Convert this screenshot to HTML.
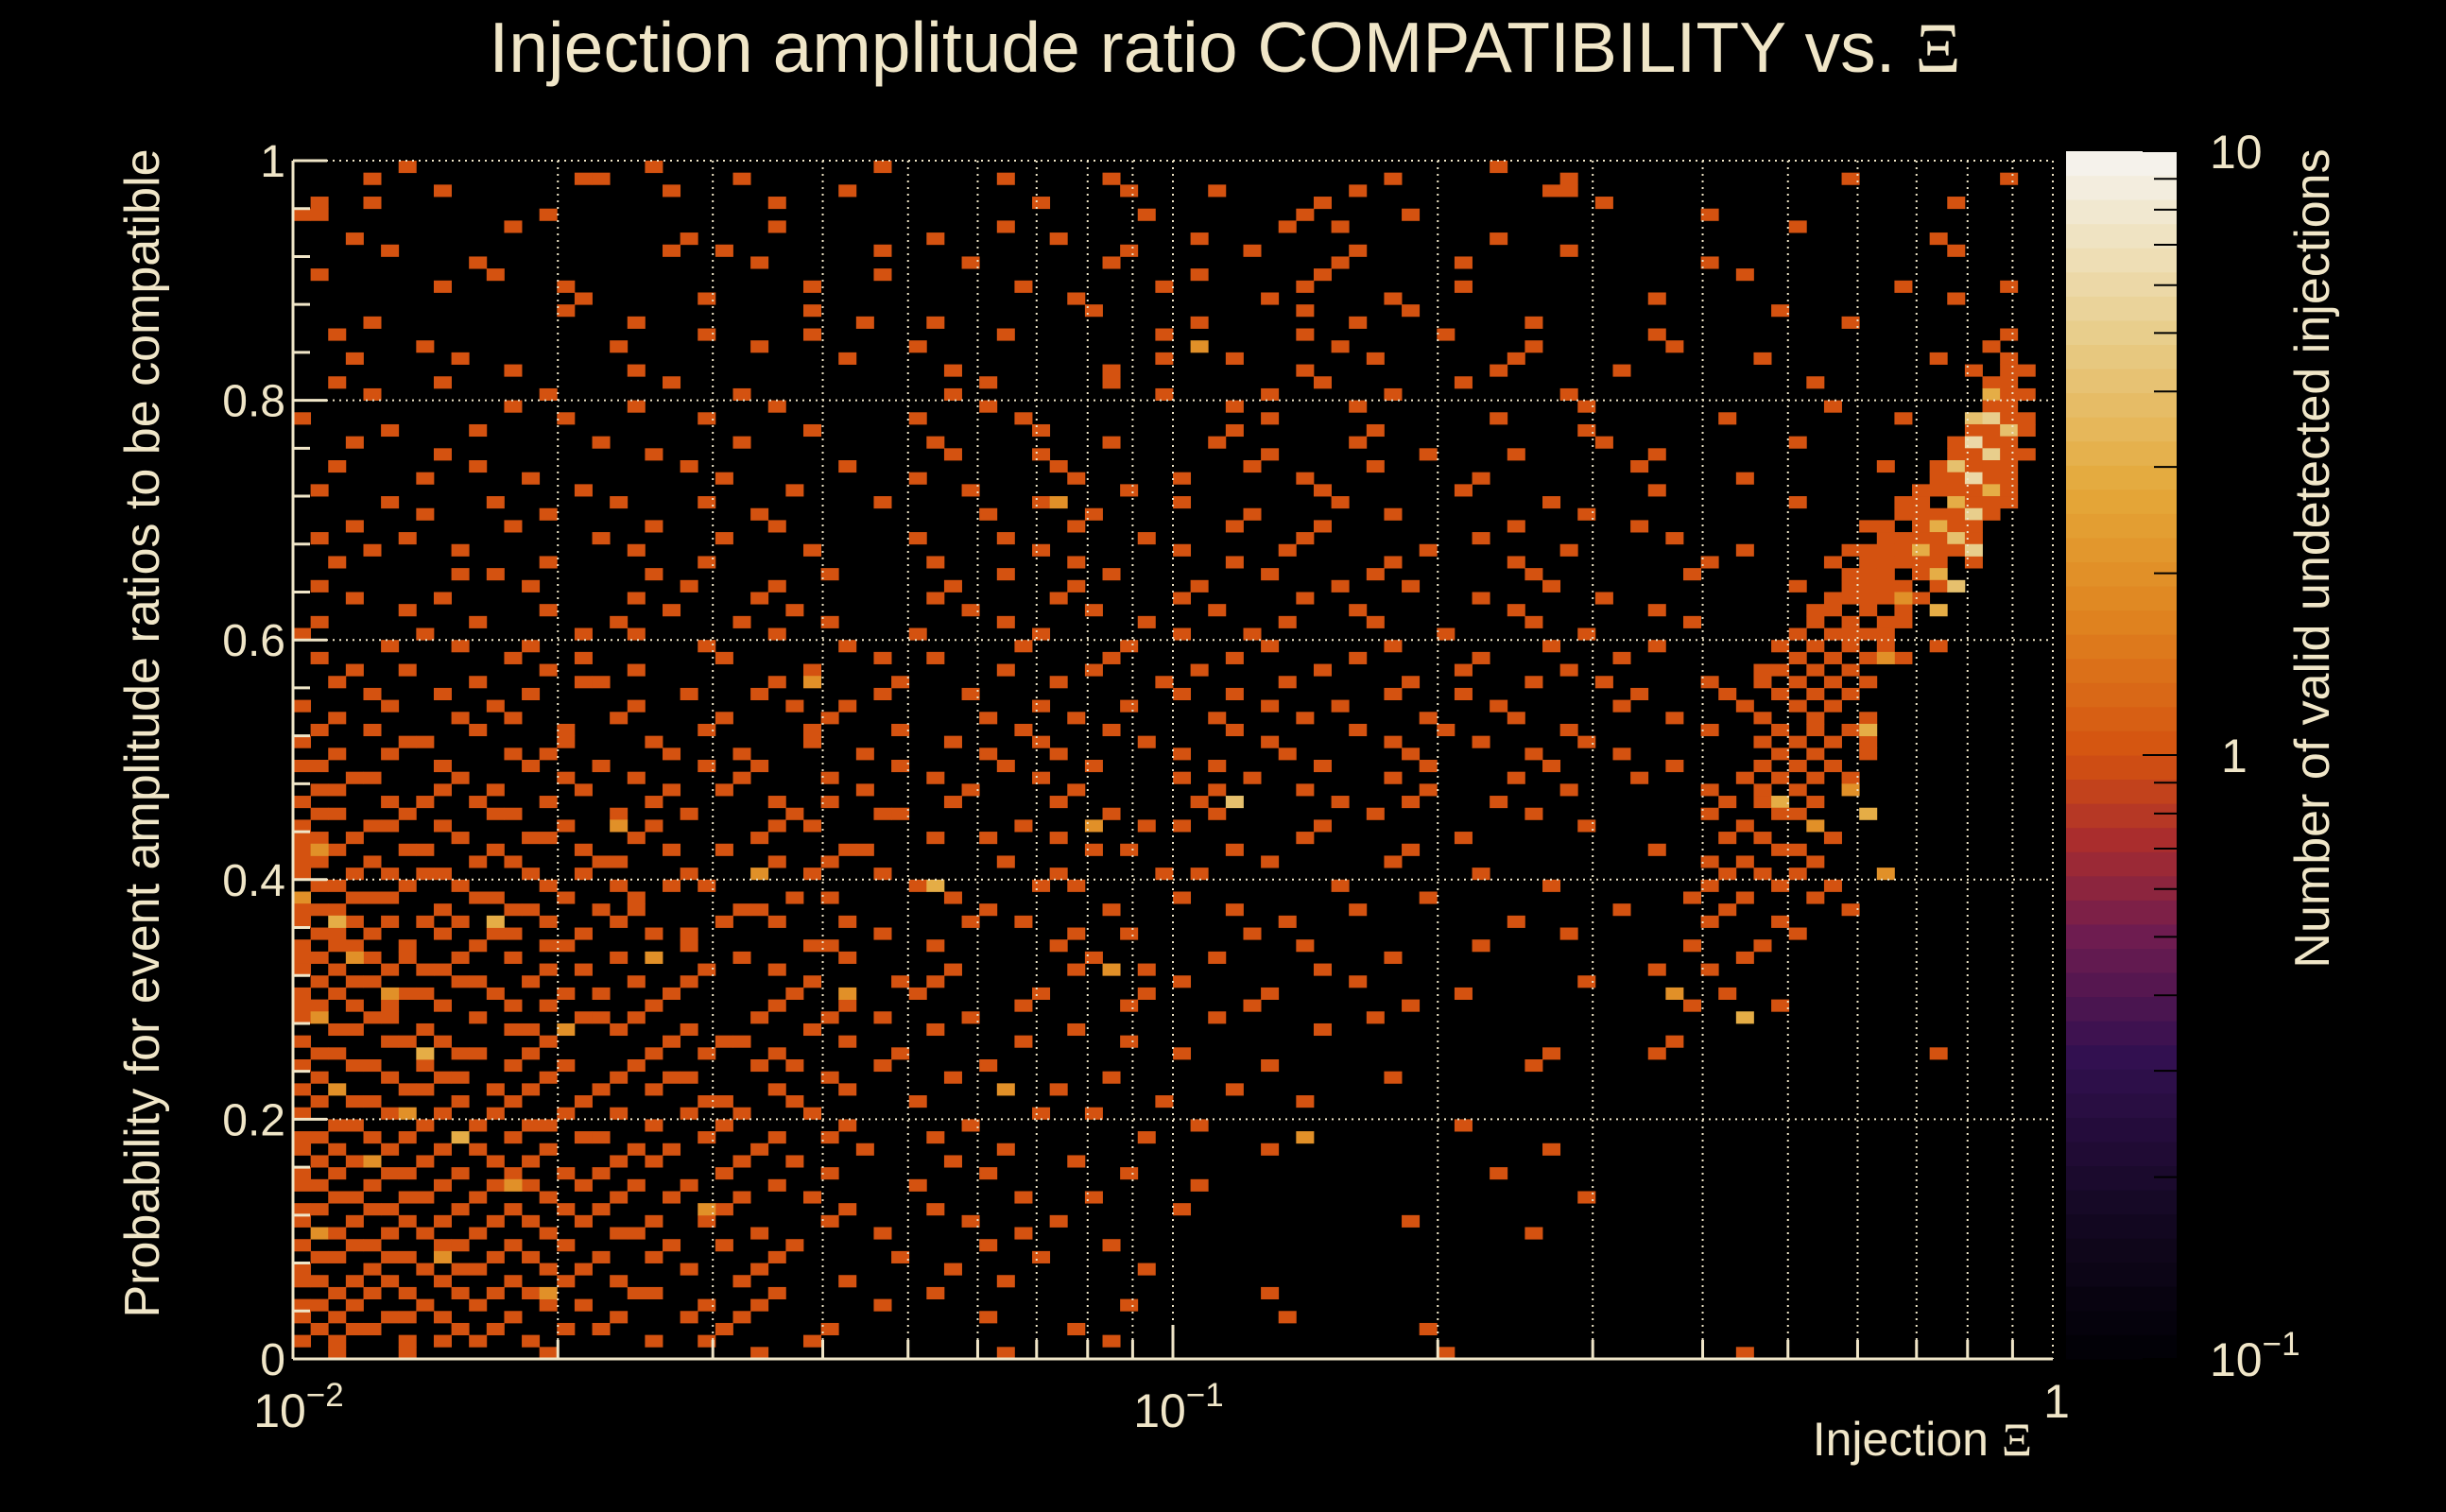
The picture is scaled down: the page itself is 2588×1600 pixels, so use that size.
<!DOCTYPE html>
<html><head><meta charset="utf-8"><style>
html,body{margin:0;padding:0;background:#000;}
svg{display:block;}
text{font-family:"Liberation Sans",sans-serif;fill:#f0e6c8;}
</style></head><body>
<svg id="chart" width="2588" height="1600" viewBox="0 0 2588 1600" xmlns="http://www.w3.org/2000/svg">
<rect x="0" y="0" width="2588" height="1600" fill="#000"/>
<g id="cells"></g>
<g id="grid"></g>
<g id="axes"></g>
<g id="cbar"></g>
<text x="1296" y="76" font-size="75" text-anchor="middle">Injection amplitude ratio COMPATIBILITY vs.  <tspan font-family="Liberation Serif, serif">Ξ</tspan></text>
<text x="2150" y="1540" font-size="50" text-anchor="end">Injection <tspan font-family="Liberation Serif, serif">Ξ</tspan></text>
<text transform="translate(168,776) rotate(-90)" font-size="52" text-anchor="middle">Probability for event amplitude ratios to be compatible</text>
<text transform="translate(2464,591) rotate(-90)" font-size="52" text-anchor="middle">Number of valid undetected injections</text>
</svg>
<script>
// ---- data: bins (x log 0.01..1, 100 bins; y 0..1, 100 bins) ----
const nXBins = 100;
const nYBins = 100;
const xRange = [0.01, 1];
const yRange = [0, 1];
const rowY = [99,98,97,96,95,94,93,92,91,90,89,88,87,86,85,84,83,82,81,80,79,78,77,76,75,74,73,72,71,70,69,68,67,66,65,64,63,62,61,60,59,58,57,56,55,54,53,52,51,50,49,48,47,46,45,44,43,42,41,40,39,38,37,36,35,34,33,32,31,30,29,28,27,26,25,24,23,22,21,20,19,18,17,16,15,14,13,12,11,10,9,8,7,6,5,4,3,2,1,0];
const rowXBins = [
[6,20,33,68],
[4,16,17,25,40,46,62,72,88,97],
[8,21,31,47,52,60,71,72],
[1,4,27,42,58,74,94],
[0,1,14,48,57,63,80],
[12,27,40,56,59,85],
[3,22,36,43,51,68,93],
[5,21,24,33,47,54,60,72,94],
[10,26,38,46,59,66,80],
[1,11,33,51,58,82],
[8,15,29,41,49,57,66,91,97],
[16,23,44,55,62,77,94],
[15,29,45,57,63,84],
[4,19,32,36,51,60,70,88],
[2,23,29,40,49,57,65,77,97],
[7,18,26,35,51,59,70,78,96],
[3,9,31,49,53,61,69,83,93,97],
[12,19,37,46,57,68,75,95,97,98],
[2,8,21,39,46,58,66,86,96,97],
[4,14,25,37,49,55,62,72,96,97,98],
[12,19,27,39,53,60,73,87,96,97],
[0,15,23,35,41,55,68,81,91,95,96,97,98],
[5,10,29,42,53,61,73,95,96,97,98],
[3,17,25,36,46,52,60,74,85,94,95,96,97],
[8,20,37,42,55,64,69,77,94,95,96,97,98],
[2,10,22,31,43,54,61,76,90,93,94,95,96,97],
[7,13,24,35,44,50,57,67,82,93,94,95,96,97],
[1,16,28,38,47,58,66,77,92,93,94,95,96,97],
[5,11,18,23,33,42,50,59,71,85,91,92,94,95,96,97],
[7,14,26,39,45,54,62,73,91,92,93,94,95,96],
[3,12,20,27,44,53,58,69,76,89,90,92,93,94,95],
[1,6,17,24,35,40,48,57,67,78,90,91,92,93,94,95],
[4,9,19,29,42,50,56,64,72,82,88,89,90,91,92,93,94],
[2,14,23,36,44,53,62,69,80,87,89,90,91,92,93,95],
[9,11,20,30,40,46,55,61,70,79,88,89,90,92,93],
[1,13,22,27,37,44,51,59,63,71,85,88,89,90,91,93],
[3,8,19,26,36,43,50,57,67,74,87,88,89,90,92],
[6,14,21,28,38,45,52,60,69,77,86,87,89,91],
[1,10,18,25,30,40,48,56,61,70,79,86,88,90,91],
[0,7,16,19,27,35,42,50,54,65,73,85,87,88,89,90],
[5,9,13,23,31,41,47,55,62,71,77,84,86,88,90,93],
[1,12,16,24,33,36,46,53,60,67,75,85,87,89,91],
[3,6,14,19,29,40,45,51,58,66,72,83,84,86,88],
[2,10,16,17,27,34,43,49,56,63,70,74,80,83,85,87,89],
[4,8,13,22,26,33,38,50,53,62,66,76,81,84,86,88],
[0,5,11,19,28,31,42,47,55,59,68,75,82,85,87],
[2,9,12,18,24,30,39,44,52,57,64,69,78,83,86,89],
[1,4,10,15,23,29,34,41,46,53,60,65,72,80,84,86,88],
[0,6,7,15,20,29,37,42,48,55,62,67,73,83,85,87,89],
[2,5,12,14,21,25,32,39,43,50,56,63,70,75,84,86,89],
[0,1,8,13,17,23,26,34,40,45,52,58,64,71,78,83,85,87],
[3,4,9,15,19,25,30,36,42,50,54,62,69,76,82,84,86,88],
[1,2,8,11,16,21,24,32,38,44,52,57,64,72,80,83,85],
[0,5,7,10,14,20,27,30,37,43,51,59,63,68,81,83,84,86],
[1,2,6,11,12,18,22,28,33,34,46,52,61,70,80,84,85],
[0,4,5,8,15,20,27,29,41,48,50,58,73,82,86],
[0,1,3,9,13,14,19,26,36,39,43,57,66,81,83,87],
[0,2,6,7,11,16,21,24,31,32,45,47,53,63,77,84,85],
[0,1,4,10,12,17,18,27,30,40,55,62,80,82,86],
[0,3,5,7,8,13,16,22,29,33,43,49,51,67,81,83,85],
[1,2,6,9,14,18,21,23,35,42,44,59,71,80,84,87],
[0,3,4,5,10,11,15,19,28,30,37,50,64,79,82,86],
[0,1,2,8,12,13,17,19,25,26,39,46,53,60,75,81,88],
[0,3,5,7,9,14,18,24,27,31,38,41,56,69,80,84],
[1,2,4,8,11,12,16,20,22,33,44,47,54,72,85],
[0,2,3,6,10,14,15,22,29,30,36,43,57,67,79,83],
[0,1,4,6,9,12,18,20,25,31,45,52,62,82],
[0,2,5,7,8,14,16,23,27,37,44,48,58,77,80],
[1,3,4,9,10,13,19,22,29,34,36,50,60,73],
[0,2,6,7,11,15,17,21,28,35,42,48,55,66,81],
[0,1,3,5,8,12,14,20,27,31,41,47,54,63,79,84],
[0,1,4,5,10,16,17,19,26,30,33,38,52,61],
[2,3,7,12,13,18,22,29,36,44,58],
[0,5,6,8,14,21,24,25,31,41,47,78],
[1,2,9,10,13,20,23,27,34,50,71,77,93],
[0,3,4,7,12,15,19,26,28,33,39,55,70],
[1,5,8,9,14,18,21,22,30,37,46,62],
[0,2,6,7,11,13,17,20,27,31,43,53],
[1,3,4,9,12,16,23,24,28,35,49,57],
[0,5,6,8,11,15,18,22,25,29,42,45],
[2,3,7,10,13,14,20,24,31,38,51,66],
[0,1,4,6,9,12,16,17,23,27,30,36,48],
[0,2,5,8,10,14,19,21,26,32,40,55,71],
[1,3,4,7,11,13,18,20,25,28,37,44],
[0,2,5,6,9,12,15,17,24,30,39,47,68],
[0,1,4,8,11,13,16,19,22,27,35,51],
[2,3,6,7,10,14,18,21,25,29,41,45,73],
[0,1,4,5,9,12,15,17,24,31,36,50],
[0,3,6,8,11,13,16,20,23,30,38,43,63],
[1,2,5,7,10,14,18,19,26,33,41,70],
[0,3,4,8,9,12,15,21,24,28,39,46],
[1,2,5,6,11,13,17,20,27,34,42],
[0,4,7,9,10,14,16,22,26,37,48],
[0,1,3,5,8,12,15,18,25,31,40],
[2,4,6,9,11,13,19,20,27,36,55],
[0,1,3,7,10,14,16,23,26,33,47],
[0,2,5,6,8,12,18,22,25,39,56],
[1,3,4,9,11,15,17,24,30,44,64],
[0,2,6,8,10,13,20,23,29,46],
[2,6,14,26,40,65,82]
];
// cells with count > 1
const hiX = [96,95,96,97,95,96,94,95,96,94,95,93,94,92,95,93,94,91,93,90,89,88,89,90,86,84,1,0,2,3,5,1,7,2,6,9,4,12,1,8,15,20,26,31,36,45,53,46,57,40,23,14,78,11,18,29,43,51,82];
const hiY = [80,78,78,77,76,75,74,73,72,71,70,69,68,67,67,65,64,63,62,58,52,47,45,40,44,46,42,38,36,33,30,28,25,22,20,18,16,14,10,8,27,33,40,30,39,44,46,32,18,22,12,5,30,36,44,56,71,84,28];
const hiCount = [3,4,5,4,6,5,4,6,3,3,5,3,4,3,5,3,4,2,3,2,3,2,3,2,2,3,2,2,3,2,2,2,3,2,2,3,2,2,2,2,2,2,2,2,3,2,4,2,2,2,2,2,2,3,2,2,2,2,3];
// axis tick values
const yTickValues = [0, 0.2, 0.4, 0.6, 0.8, 1];
const yTickLabels = ["0", "0.2", "0.4", "0.6", "0.8", "1"];
const xMajorTicks = [0.01, 0.1, 1];
const cbMajorTicks = [0.1, 1, 10];
const cbRange = [0.1, 10];

// ---- layout ----
const X0 = 310, X1 = 2172, YB = 1438, YT = 170;
const CBX0 = 2186, CBX1 = 2303, CBY0 = 1438, CBY1 = 160;
const NS = 'http://www.w3.org/2000/svg';
function xScale(v){ return X0 + (Math.log10(v) - Math.log10(xRange[0])) / (Math.log10(xRange[1]) - Math.log10(xRange[0])) * (X1 - X0); }
function yScale(v){ return YB - (v - yRange[0]) / (yRange[1] - yRange[0]) * (YB - YT); }
function cbScale(v){ return CBY0 - (Math.log10(v) - Math.log10(cbRange[0])) / (Math.log10(cbRange[1]) - Math.log10(cbRange[0])) * (CBY0 - CBY1); }
function xEdge(i){ return Math.pow(10, Math.log10(xRange[0]) + (Math.log10(xRange[1]) - Math.log10(xRange[0])) * i / nXBins); }
function yEdge(j){ return yRange[0] + (yRange[1] - yRange[0]) * j / nYBins; }
const stops = [[0,[0,0,4]],[0.12,[20,8,34]],[0.25,[50,16,80]],[0.35,[110,28,80]],[0.43,[170,45,45]],[0.5,[212,82,16]],[0.62,[224,134,32]],[0.72,[228,168,58]],[0.85,[232,206,140]],[1,[246,245,242]]];
function colorFor(c){
  let t = (Math.log10(c) - Math.log10(cbRange[0])) / (Math.log10(cbRange[1]) - Math.log10(cbRange[0]));
  t = Math.max(0, Math.min(1, t));
  for (let k = 1; k < stops.length; k++) {
    if (t <= stops[k][0]) {
      const a = stops[k-1], b = stops[k], f = (t - a[0]) / (b[0] - a[0]);
      const r = a[1].map((v, i) => Math.round(v + (b[1][i] - v) * f));
      return 'rgb(' + r.join(',') + ')';
    }
  }
  return 'rgb(246,245,242)';
}
function mk(tag, attrs, parent){ const e = document.createElementNS(NS, tag); for (const k in attrs) e.setAttribute(k, attrs[k]); parent.appendChild(e); return e; }

// ---- build counts ----
const counts = {};
rowY.forEach((iy, r) => rowXBins[r].forEach(ix => { counts[ix + ',' + iy] = 1; }));
hiX.forEach((ix, k) => { counts[ix + ',' + hiY[k]] = hiCount[k]; });

const cellsG = document.getElementById('cells');
Object.keys(counts).forEach(key => {
  const [ix, iy] = key.split(',').map(Number);
  const x0 = xScale(xEdge(ix)), x1 = xScale(xEdge(ix + 1));
  const y0 = yScale(yEdge(iy + 1)), y1 = yScale(yEdge(iy));
  const r = mk('rect', {x: x0.toFixed(2), y: y0.toFixed(2), width: (x1 - x0 + 0.4).toFixed(2), height: (y1 - y0 + 0.4).toFixed(2), fill: colorFor(counts[key])}, cellsG);
  
  
});

// ---- grid ----
const gridG = document.getElementById('grid');
const gridStyle = {stroke: '#f0e6c8', 'stroke-width': 2, 'stroke-dasharray': '2,5'};
for (let d = -2; d < 0; d++) {
  for (let m = 1; m <= 9; m++) {
    const v = m * Math.pow(10, d);
    if (v <= xRange[0]) continue;
    const x = xScale(v);
    const l = mk('line', Object.assign({x1: x, x2: x, y1: YT, y2: YB}, gridStyle), gridG);
    
    
  }
}
{
  const x = xScale(xRange[1]);
  const l = mk('line', Object.assign({x1: x, x2: x, y1: YT, y2: YB}, gridStyle), gridG);
  
  
}
yTickValues.forEach(v => {
  if (v === 0) return;
  const y = yScale(v);
  const l = mk('line', Object.assign({x1: X0, x2: X1, y1: y, y2: y}, gridStyle), gridG);
  
  
});

// ---- axes ----
const axG = document.getElementById('axes');
const axStyle = {stroke: '#f0e6c8', 'stroke-width': 3};
let ln = mk('line', Object.assign({x1: X0, x2: X1, y1: YB, y2: YB}, axStyle), axG);


ln = mk('line', Object.assign({x1: X0, x2: X0, y1: YT, y2: YB}, axStyle), axG);


for (let d = -2; d < 0; d++) {
  for (let m = 1; m <= 9; m++) {
    const v = m * Math.pow(10, d);
    const x = xScale(v);
    const t = mk('line', Object.assign({x1: x, x2: x, y1: YB, y2: YB - (m === 1 ? 36 : 20)}, axStyle), axG);
    
    
  }
}
for (let k = 0; k <= 25; k++) {
  const v = k * 0.04;
  const y = yScale(v);
  const major = (k % 5 === 0);
  const t = mk('line', Object.assign({x1: X0, x2: X0 + (major ? 36 : 18), y1: y, y2: y}, axStyle), axG);
  
  
}
yTickValues.forEach((v, i) => {
  const t = mk('text', {x: X0 - 8, y: yScale(v) + 17, 'font-size': 48, 'text-anchor': 'end'}, axG);
  t.textContent = yTickLabels[i];
  
  
});
function powLabel(parent, x, y, base, exp, name, anchorMiddle){
  const t = mk('text', {x: x, y: y, 'font-size': 50, 'text-anchor': anchorMiddle ? 'middle' : 'start'}, parent);
  t.textContent = base;
  if (exp !== null) {
    const s = document.createElementNS(NS, 'tspan');
    s.setAttribute('dy', -22); s.setAttribute('font-size', 35);
    s.textContent = exp; t.appendChild(s);
  }
  
  
  return t;
}
xMajorTicks.forEach(v => {
  const e = Math.round(Math.log10(v));
  if (e === 0) powLabel(axG, xScale(v) + 4, 1500, '1', null, 'x-tick-label', true);
  else powLabel(axG, xScale(v) + 6, 1510, '10', '\u2212' + (-e), 'x-tick-label', true);
});

// ---- color bar ----
const cbG = document.getElementById('cbar');
const nSteps = 50;
for (let s = 0; s < nSteps; s++) {
  const v0 = Math.pow(10, Math.log10(cbRange[0]) + s / nSteps * 2);
  const v1 = Math.pow(10, Math.log10(cbRange[0]) + (s + 1) / nSteps * 2);
  const vm = Math.sqrt(v0 * v1);
  const r = mk('rect', {x: CBX0, y: cbScale(v1), width: CBX1 - CBX0, height: cbScale(v0) - cbScale(v1) + 0.5, fill: colorFor(vm)}, cbG);
  
  
}
for (let d = -1; d <= 1; d++) {
  for (let m = 1; m <= 9; m++) {
    const v = m * Math.pow(10, d);
    if (v > cbRange[1] + 1e-9) continue;
    const y = cbScale(v);
    const t = mk('line', {x1: CBX1, x2: CBX1 - (m === 1 ? 36 : 24), y1: y, y2: y, stroke: '#000', 'stroke-width': 2}, cbG);
    
    
  }
}
cbMajorTicks.forEach(v => {
  const e = Math.round(Math.log10(v));
  const y = cbScale(v) + 18;
  if (e === 1) powLabel(cbG, 2338, y, '10', null, 'colorbar-tick-label', false);
  else if (e === 0) powLabel(cbG, 2350, y, '1', null, 'colorbar-tick-label', false);
  else powLabel(cbG, 2338, y, '10', '\u22121', 'colorbar-tick-label', false);
});
</script>
</body></html>
